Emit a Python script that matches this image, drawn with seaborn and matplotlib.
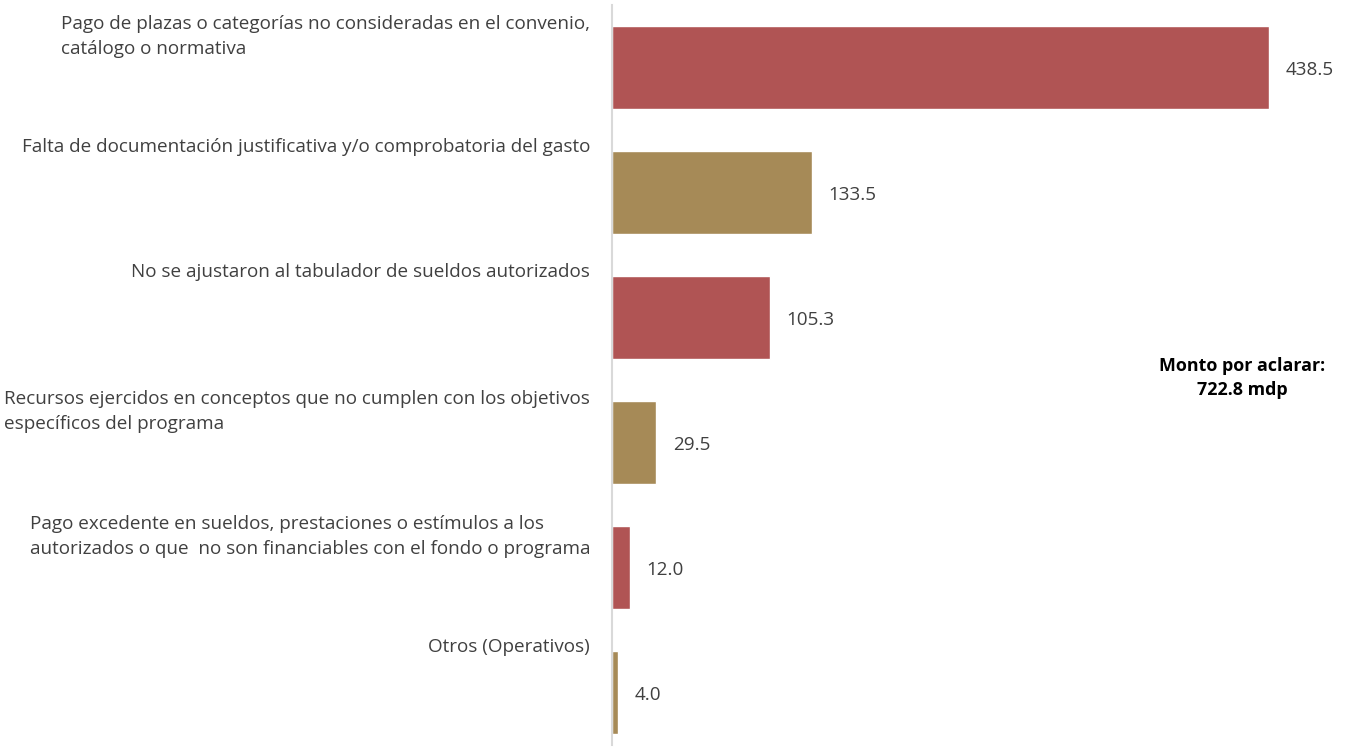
import matplotlib
matplotlib.use("Agg")
import matplotlib.pyplot as plt
import matplotlib.transforms as mtransforms
import seaborn as sns
import pandas as pd

categories = [
    "Pago de plazas o categorías no consideradas en el convenio,\ncatálogo o normativa",
    "Falta de documentación justificativa y/o comprobatoria del gasto",
    "No se ajustaron al tabulador de sueldos autorizados",
    "Recursos ejercidos en conceptos que no cumplen con los objetivos\nespecíficos del programa",
    "Pago excedente en sueldos, prestaciones o estímulos a los\nautorizados o que  no son financiables con el fondo o programa",
    "Otros (Operativos)",
]
values = [438.5, 133.5, 105.3, 29.5, 12.0, 4.0]
groups = ["a", "b", "a", "b", "a", "b"]
annotation = "Monto por aclarar:\n722.8 mdp"

sns.set_theme(style="white")
plt.rcParams["font.family"] = ["Open Sans", "DejaVu Sans"]

W, H = 1346, 752
fig = plt.figure(figsize=(W / 100, H / 100), dpi=100)
ax = fig.add_axes([612 / W, 1 - 745 / H, (W - 612) / W, 740 / H])

df = pd.DataFrame({"cat": categories, "val": values, "grp": groups})
sns.barplot(data=df, y="cat", x="val", hue="grp", orient="h",
            palette={"a": "#B05454", "b": "#A68A57"}, dodge=False,
            width=0.664, legend=False, ax=ax, saturation=1)

ax.set_xlim(0, 734 / 1.498)
ax.set_ylim(5.416, -0.504)
ax.set_xlabel("")
ax.set_ylabel("")
ax.set_xticks([])
ax.set_yticks([])
for s in ["top", "right", "bottom"]:
    ax.spines[s].set_visible(False)
ax.spines["left"].set_color("#D9D9D9")
ax.spines["left"].set_linewidth(1.5)

tc = "#404040"
fs = 13.6
trans = mtransforms.blended_transform_factory(ax.transAxes, ax.transData)
off = mtransforms.ScaledTranslation(-22 / 100, 0, fig.dpi_scale_trans)
for i, (c, v) in enumerate(zip(categories, values)):
    if "\n" in c:
        ax.text(0, i - 0.425, c, transform=trans + off, ha="right", va="top",
                multialignment="left", fontsize=fs, color=tc, linespacing=1.5)
    else:
        ax.text(0, i - 0.37, c, transform=trans + off, ha="right", va="center",
                fontsize=fs, color=tc)
    ax.text(v + 11, i + 0.02, f"{v:.1f}", ha="left", va="center",
            fontsize=fs, color=tc)

fig.text(1242 / W, 1 - 378 / H, annotation, ha="center", va="center",
         fontsize=12.9, fontweight="bold", color="black", linespacing=1.4)

fig.savefig("out.png", dpi=100, facecolor="white")
